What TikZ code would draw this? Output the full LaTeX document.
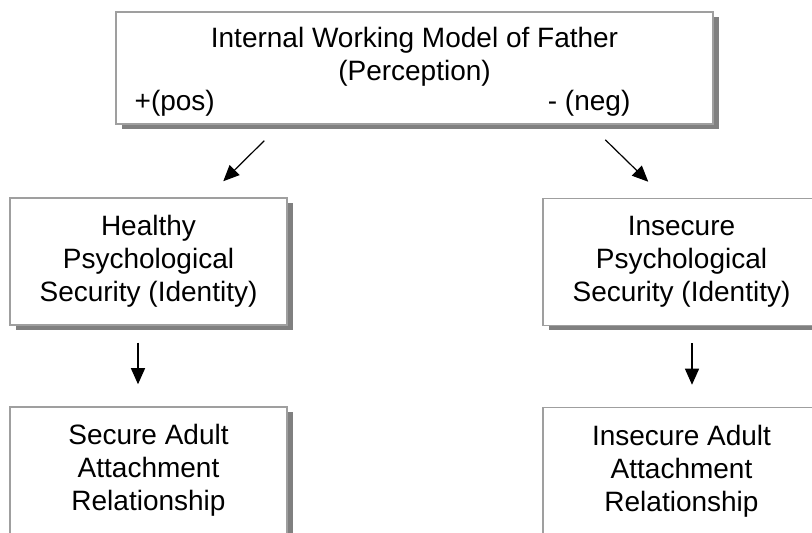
\documentclass[tikz,border=0pt]{standalone}
\usepackage{fontspec}
\setmainfont{Liberation Sans}
\usetikzlibrary{arrows.meta,positioning,shadows}

\tikzset{
  box/.style={draw=gray!75,line width=0.75pt,fill=white,
    minimum width=138.5pt,minimum height=63.5pt,inner sep=0pt,align=center,
    font=\fontsize{14pt}{16.5pt}\selectfont,
    drop shadow={shadow xshift=3pt,shadow yshift=-2.5pt,fill=gray,opacity=1}},
  sign/.style={inner sep=0pt,font=\fontsize{14pt}{16.5pt}\selectfont}
}

\begin{document}
\begin{tikzpicture}
    [>={Triangle[length=8pt,width=7pt]},node distance=104.5pt,on grid]
    \useasboundingbox (0,0) rectangle (406pt,-266.5pt);

    \node[box,minimum width=298.5pt,minimum height=56pt] (father) at (207.25pt,-34pt)
      {Internal Working Model of Father\\(Perception)\\[-7.5pt]\strut};
    \node[sign,anchor=base west] (pos) at ([shift={(9.5pt,7pt)}]father.south west) {+(pos)};
    \node[sign,anchor=base east] (neg) at ([shift={(-41.5pt,7pt)}]father.south east) {- (neg)};

    \node[box] (healthy) [below left=96.75pt and 133pt of father] {Healthy\\Psychological\\Security (Identity)};
    \node[box] (insecure) [below right=97pt and 133.5pt of father] {Insecure\\Psychological\\Security (Identity)};
    \node[box] (secadult) [below=of healthy] {Secure Adult\\Attachment\\Relationship};
    \node[box] (insadult) [below=of insecure] {Insecure Adult\\Attachment\\Relationship};

    \draw[->,line width=0.6pt] ([shift={(74.5pt,-8pt)}]father.south west) -- ([shift={(107pt,8pt)}]healthy.north west);
    \draw[->,line width=0.6pt] ([shift={(245pt,-7.5pt)}]father.south west) -- ([shift={(53pt,8pt)}]insecure.north west);
    \draw[->,line width=0.6pt] ([shift={(-5.25pt,-8.5pt)}]healthy.south) -- ([shift={(-5.25pt,11pt)}]secadult.north);
    \draw[->,line width=0.6pt] ([shift={(5.25pt,-8.5pt)}]insecure.south) -- ([shift={(5.25pt,11pt)}]insadult.north);

  \end{tikzpicture}
\end{document}
